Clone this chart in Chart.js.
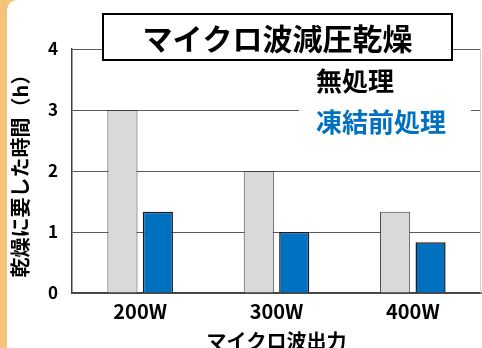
<!DOCTYPE html>
<html lang="ja">
<head>
<meta charset="UTF-8"/>
<script src="https://cdn.jsdelivr.net/npm/chart.js"></script>
<style>
  html, body { margin: 0; padding: 0; }
  body { width: 482px; height: 348px; background: #f6c27a; position: relative; overflow: hidden; }
  #panel { position: absolute; left: 7px; top: 0; width: 475px; height: 348px; background: #fff; border-top-left-radius: 10px; }
  #wrap { position: absolute; left: 0; top: 0; width: 482px; height: 348px; }
</style>
</head>
<body>
<div id="panel"></div>
<div id="wrap"><canvas id="dryChart" width="482" height="348"></canvas></div>
<script>
const categories = ['200W', '300W', '400W'];
const seriesNames = ['無処理', '凍結前処理'];
const untreated = [3.0, 2.0, 1.33];
const frozen = [1.33, 1.0, 0.83];
const yTicks = [0, 1, 2, 3, 4];
const chartTitle = 'マイクロ波減圧乾燥';
const xTitle = 'マイクロ波出力';
const yTitle = '乾燥に要した時間（h）';

const FONT = '"Noto Sans CJK JP", "Noto Sans", sans-serif';

// title box + legend text, drawn on top of the grid
const decorations = {
    id: 'decorations',
    afterDraw(chart) {
        const ctx = chart.ctx;
        const area = chart.chartArea;
        ctx.save();
        // light right border of plot
        ctx.strokeStyle = '#d0d0d0';
        ctx.lineWidth = 1;
        ctx.beginPath();
        ctx.moveTo(area.right - 0.5, area.top);
        ctx.lineTo(area.right - 0.5, area.bottom);
        ctx.stroke();

        // title box
        ctx.fillStyle = '#fff';
        ctx.fillRect(103, 14, 349, 46);
        ctx.strokeStyle = '#000';
        ctx.lineWidth = 2;
        ctx.strokeRect(103, 14, 349, 46);
        ctx.fillStyle = '#000';
        ctx.font = 'bold 30px ' + FONT;
        ctx.textAlign = 'center';
        ctx.textBaseline = 'middle';
        ctx.fillText(chartTitle, 277.5, 39);

        // legend
        ctx.fillStyle = '#fff';
        ctx.fillRect(299, 64, 172, 76);
        ctx.font = 'bold 26px ' + FONT;
        ctx.textAlign = 'left';
        const colours = ['#000000', '#0070c0'];
        seriesNames.forEach((name, i) => {
            ctx.fillStyle = colours[i];
            ctx.fillText(name, 316, 81 + i * 41);
        });
        ctx.restore();
    }
};

const ctx = document.getElementById('dryChart');
const dryChart = new Chart(ctx, {
    type: 'bar',
    data: {
        labels: categories,
        datasets: [
            {
                label: seriesNames[0],
                data: untreated,
                backgroundColor: '#d9d9d9',
                borderColor: '#404040',
                borderWidth: 1
            },
            {
                label: seriesNames[1],
                data: frozen,
                backgroundColor: '#0070c0',
                borderColor: '#1a1a1a',
                borderWidth: 1.5
            }
        ]
    },
    options: {
        responsive: false,
        animation: false,
        devicePixelRatio: 1,
        categoryPercentage: 0.52,
        barPercentage: 0.85,
        layout: { padding: { left: 0, right: 1, top: 49, bottom: 0 } },
        plugins: {
            legend: { display: false },
            title: { display: false },
            tooltip: { enabled: false }
        },
        scales: {
            x: {
                grid: { display: false, drawTicks: false },
                border: { display: true, color: '#404040', width: 1.5 },
                ticks: {
                    color: '#000',
                    padding: 6,
                    font: { family: FONT, size: 20, weight: 'bold' }
                },
                title: {
                    display: true,
                    text: xTitle,
                    color: '#000',
                    padding: 0,
                    font: { family: FONT, size: 20, weight: 'bold', lineHeight: 0.7 }
                },
                afterFit(scale) { scale.height = 55; }
            },
            y: {
                min: 0,
                max: 4,
                afterBuildTicks(scale) { scale.ticks = yTicks.map(v => ({ value: v })); },
                grid: { color: '#595959', lineWidth: 1, drawTicks: false },
                border: { display: true, color: '#404040', width: 1.5 },
                ticks: {
                    color: '#000',
                    padding: 14,
                    font: { family: FONT, size: 17, weight: 'bold' }
                },
                title: {
                    display: true,
                    text: yTitle,
                    color: '#000',
                    padding: { top: 8 },
                    font: { family: FONT, size: 20, weight: 'bold' }
                },
                afterFit(scale) { scale.width = 72; }
            }
        }
    },
    plugins: [decorations]
});
</script>
</body>
</html>
